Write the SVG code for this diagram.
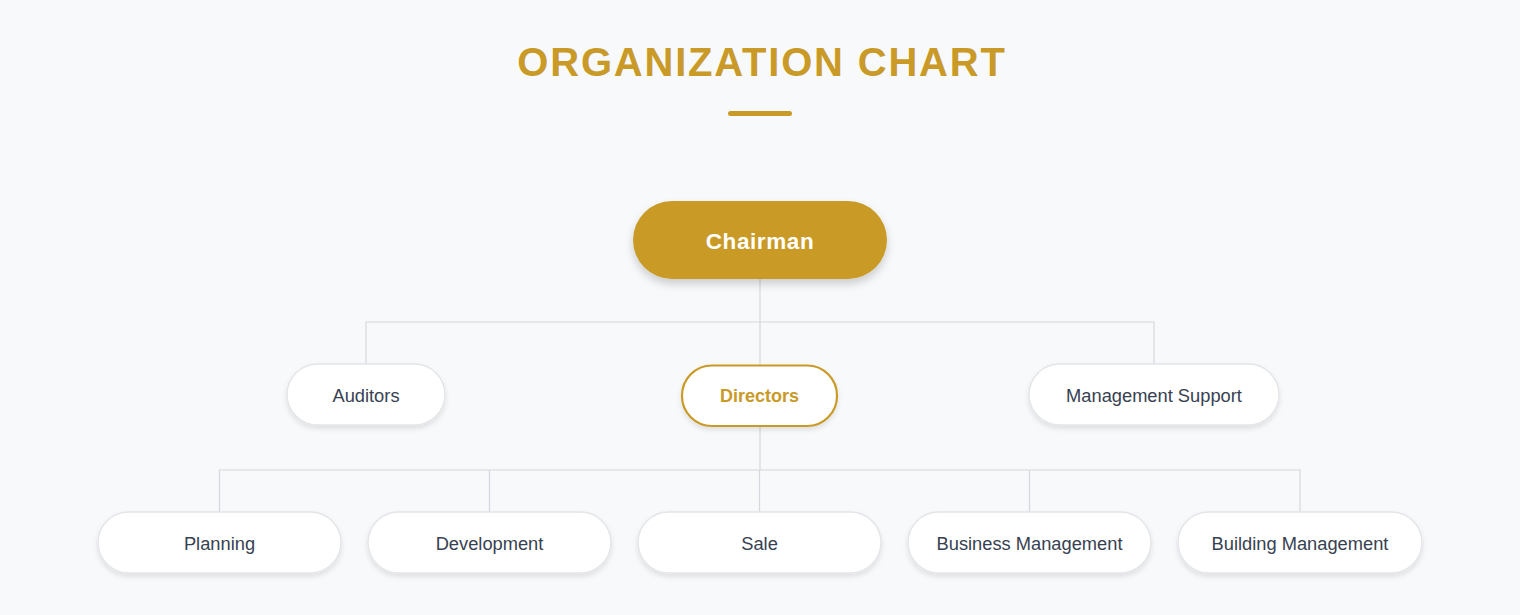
<svg xmlns="http://www.w3.org/2000/svg" width="1520" height="615" viewBox="0 0 1520 615">
<defs>
<filter id="sh" x="-20%" y="-30%" width="140%" height="170%">
<feDropShadow dx="0" dy="3" stdDeviation="2.5" flood-color="#000" flood-opacity="0.10"/>
</filter>
<filter id="shc" x="-20%" y="-30%" width="140%" height="180%">
<feDropShadow dx="0" dy="5" stdDeviation="4" flood-color="#000" flood-opacity="0.18"/>
</filter>
<style>
.node{fill:#ffffff;stroke:#e3e5e8;stroke-width:1.5;filter:url(#sh)}
.lbl{font-family:"Liberation Sans",Arial,sans-serif;font-size:18.3px;fill:#374151;text-anchor:middle;dominant-baseline:central}
.con{fill:none;stroke:#d5d8dd;stroke-width:1.2}
</style>
</defs>
<rect x="0" y="0" width="1520" height="615" fill="#f8f9fb"/>
<text x="762" y="76" font-family="'Liberation Sans',Arial,sans-serif" font-size="40" font-weight="bold" letter-spacing="1.8" fill="#c99a27" text-anchor="middle">ORGANIZATION CHART</text>
<rect x="728" y="111" width="64" height="5" rx="2.5" fill="#c99a27"/>
<g id="connectors">
<path class="con" d="M760 279V322M366 364V322H1154V364M760 322V365"/>
<path class="con" d="M760 427V470M219.5 512V470H1300V512M489.5 470V512M759.5 470V512M1029.5 470V512"/>
</g>
<g id="chairman">
<rect x="633" y="201" width="254" height="78" rx="39" fill="#c99a27" filter="url(#shc)"/>
<text x="760" y="241" font-family="'Liberation Sans',Arial,sans-serif" font-size="22.5" font-weight="bold" letter-spacing="0.6" fill="#ffffff" text-anchor="middle" dominant-baseline="central">Chairman</text>
</g>
<g id="auditors">
<rect class="node" x="287" y="364" width="158" height="61" rx="30.5"/>
<text class="lbl" x="366" y="395">Auditors</text>
</g>
<g id="directors">
<rect x="682" y="365.5" width="155" height="60.5" rx="30" fill="#ffffff" stroke="#c99a27" stroke-width="2.2" filter="url(#sh)"/>
<text x="759.5" y="396" font-family="'Liberation Sans',Arial,sans-serif" font-size="18" font-weight="bold" fill="#c99a27" text-anchor="middle" dominant-baseline="central">Directors</text>
</g>
<g id="management-support">
<rect class="node" x="1029" y="364" width="250" height="61" rx="30.5"/>
<text class="lbl" x="1154" y="395">Management Support</text>
</g>
<g id="planning">
<rect class="node" x="98" y="512" width="243" height="61" rx="30.5"/>
<text class="lbl" x="219.5" y="543">Planning</text>
</g>
<g id="development">
<rect class="node" x="368" y="512" width="243" height="61" rx="30.5"/>
<text class="lbl" x="489.5" y="543">Development</text>
</g>
<g id="sale">
<rect class="node" x="638" y="512" width="243" height="61" rx="30.5"/>
<text class="lbl" x="759.5" y="543">Sale</text>
</g>
<g id="business-management">
<rect class="node" x="908" y="512" width="243" height="61" rx="30.5"/>
<text class="lbl" x="1029.5" y="543">Business Management</text>
</g>
<g id="building-management">
<rect class="node" x="1178" y="512" width="244" height="61" rx="30.5"/>
<text class="lbl" x="1300" y="543">Building Management</text>
</g>
</svg>
